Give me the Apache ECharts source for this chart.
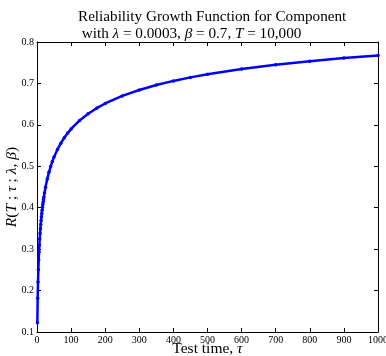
<!DOCTYPE html>
<html>
<head>
<meta charset="utf-8">
<script src="https://cdn.jsdelivr.net/npm/echarts@6/dist/echarts.min.js"></script>
<style>
  html, body { margin: 0; padding: 0; background: #fff; }
  #chart { width: 386px; height: 356px; }
</style>
</head>
<body>
<div id="chart"></div>
<script>
  // test time tau
  var testTimes = [1, 2, 3, 4, 5, 6, 7, 8, 9, 10, 11, 12, 13, 14, 15, 16, 17, 18, 19, 20,
    22, 25, 30, 35, 40, 45, 50, 60, 70, 80, 90, 100, 125, 150, 175, 200, 250, 300,
    350, 400, 450, 500, 600, 700, 800, 900, 1000];
  var reliability = [0.1225, 0.1816, 0.2208, 0.2502, 0.2737, 0.2932, 0.3099, 0.3245, 0.3375, 0.3491,
    0.3596, 0.3692, 0.3780, 0.3862, 0.3938, 0.4009, 0.4076, 0.4138, 0.4197, 0.4254,
    0.4357, 0.4495, 0.4691, 0.4854, 0.4994, 0.5116, 0.5224, 0.5407, 0.5559, 0.5689,
    0.5801, 0.5901, 0.6106, 0.6268, 0.6402, 0.6516, 0.6698, 0.6842, 0.6961, 0.7061,
    0.7146, 0.7222, 0.7348, 0.7451, 0.7538, 0.7613, 0.7677];

  var serif = 'Liberation Serif';
  var points = testTimes.map(function (t, i) { return [t, reliability[i]]; });

  var chart = echarts.init(document.getElementById('chart'));

  var frame = { show: true, onZero: false, lineStyle: { color: '#000', width: 1 } };
  var inTick = { show: true, inside: true, length: 4, lineStyle: { color: '#000' } };
  var mathRich = {
    n: { fontFamily: serif, fontSize: 15.5, color: '#000' },
    i: { fontFamily: serif, fontSize: 15.5, fontStyle: 'italic', color: '#000' }
  };

  chart.setOption({
    animation: false,
    title: {
      text: 'Reliability Growth Function for Component\n{n| with }{i|λ}{n| = 0.0003, }{i|β}{n| = 0.7, }{i|T}{n| = 10,000}',
      left: 73,
      top: 4,
      textStyle: {
        fontFamily: serif, fontSize: 15.2, fontWeight: 'normal', color: '#000', lineHeight: 17,
        rich: {
          n: { fontFamily: serif, fontSize: 15.2, color: '#000', lineHeight: 17 },
          i: { fontFamily: serif, fontSize: 15.2, fontStyle: 'italic', color: '#000', lineHeight: 17 }
        }
      }
    },
    grid: { left: 37, right: 8, top: 42, bottom: 24, outerBoundsMode: 'none' },
    xAxis: [{
      type: 'value', min: 0, max: 1000, interval: 100,
      axisLine: frame, axisTick: inTick, splitLine: { show: false },
      axisLabel: {
        color: '#000', fontFamily: serif, fontSize: 10, margin: 3,
        formatter: function (v) { return String(v); }
      },
      name: '{n|Test time, }{i|τ}',
      nameLocation: 'middle', nameGap: 8.5, nameMoveOverlap: false,
      nameTextStyle: { rich: mathRich }
    }, {
      type: 'value', position: 'top', min: 0, max: 1000, interval: 100,
      axisLine: frame, axisTick: inTick, splitLine: { show: false },
      axisLabel: { show: false }
    }],
    yAxis: [{
      type: 'value', min: 0.1, max: 0.8, interval: 0.1,
      axisLine: frame, axisTick: inTick, splitLine: { show: false },
      axisLabel: {
        color: '#000', fontFamily: serif, fontSize: 10, margin: 3,
        formatter: function (v) { return v.toFixed(1); }
      },
      name: '{i|R}{n|(}{i|T}{n| ; }{i|τ}{n| ; }{i|λ}{n|, }{i|β}{n|)}',
      nameLocation: 'middle', nameRotate: 90, nameGap: 17, nameMoveOverlap: false,
      nameTextStyle: { rich: mathRich }
    }, {
      type: 'value', position: 'right', min: 0.1, max: 0.8, interval: 0.1,
      axisLine: frame, axisTick: inTick, splitLine: { show: false },
      axisLabel: { show: false }
    }],
    series: [{
      type: 'line',
      data: points,
      xAxisIndex: 0,
      yAxisIndex: 0,
      symbol: 'circle',
      symbolSize: 3.5,
      showSymbol: true,
      itemStyle: { color: '#0000ff' },
      lineStyle: { color: '#0000ff', width: 2.5 }
    }]
  });
</script>
</body>
</html>
